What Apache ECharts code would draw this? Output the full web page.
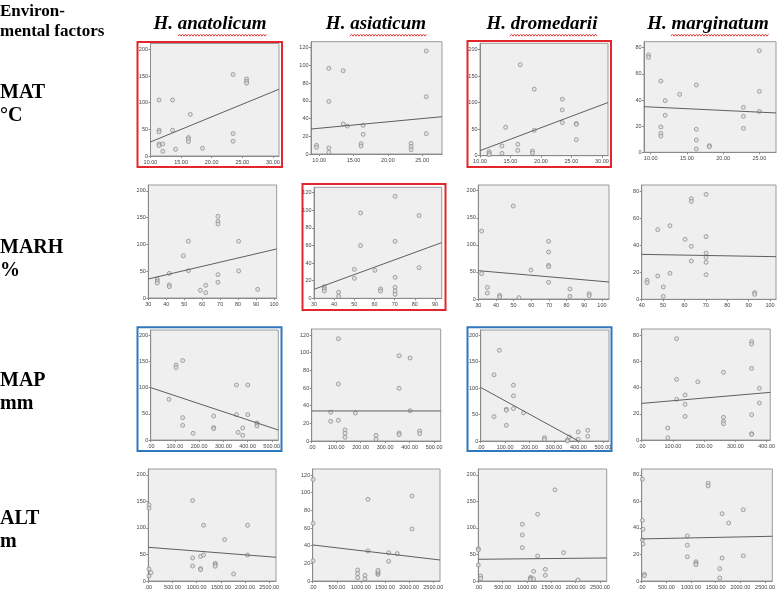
<!DOCTYPE html>
<html><head><meta charset="utf-8">
<script src="https://cdn.jsdelivr.net/npm/echarts@6/dist/echarts.min.js"></script>
<style>html,body{margin:0;padding:0;background:#fff}#c{width:778px;height:590px}</style>
</head><body><div id="c"></div>
<script>
// ---------- DATA ----------
const speciesNames = ['anatolicum', 'asiaticum', 'dromedarii', 'marginatum'];
const factorLabels = ['MAT\n°C', 'MARH\n%', 'MAP\nmm', 'ALT\nm'];
const cornerLabel = 'Environ-\nmental factors';

// tick labels
const yTicks200 = [0, 50, 100, 150, 200];
const yTicks120 = [0, 20, 40, 60, 80, 100, 120];
const yTicks80 = [0, 20, 40, 60, 80];
const xTicksMat = [10, 15, 20, 25, 30];
const xTicksMat25 = [10, 15, 20, 25];
const xTicksMarh = [30, 40, 50, 60, 70, 80, 90, 100];
const xTicksMarh90 = [30, 40, 50, 60, 70, 80, 90];
const xTicksMarh40 = [40, 50, 60, 70, 80, 90, 100];
const xTicksMap = [0, 100, 200, 300, 400, 500];
const xTicksMap400 = [0, 100, 200, 300, 400];
const xTicksAlt = [0, 500, 1000, 1500, 2000, 2500];

// MAT (°C)
const matAnatolicum = [[11.4,105],[11.4,48.4],[11.4,45],[11.4,22.6],[11.4,19.5],[12.0,22.6],[12.0,8.8],[13.6,105],[13.6,48.4],[14.1,12.6],[16.2,34.6],[16.2,31.4],[16.2,27],[16.5,78],[18.5,14.5],[23.5,152.8],[23.5,42],[23.5,27.7],[25.7,144.6],[25.7,140],[25.7,136.5]];
const matAnatolicumFit = [[10,26.4],[31,125.2]];
const matAsiaticum = [[9.6,9.8],[9.6,7.5],[11.4,96.7],[11.4,59.4],[11.4,6.8],[11.4,1.9],[13.5,94],[13.5,33.9],[14.1,31.6],[16.1,11.7],[16.1,9],[16.4,32.4],[16.4,22.2],[23.4,12],[23.4,8.3],[23.4,4.9],[25.6,116.3],[25.6,64.7],[25.6,23]];
const matAsiaticumFit = [[8.8,28.2],[27.9,42.1]];
const matDromedarii = [[11.5,7.6],[11.5,4.4],[11.5,1.9],[13.6,18.3],[13.6,4.4],[14.2,53.6],[16.2,21.5],[16.2,10],[16.6,171.6],[18.6,8.8],[18.6,5],[18.9,125.5],[18.9,48],[23.5,106.6],[23.5,86.4],[23.5,62.5],[25.8,60.6],[25.8,59],[25.8,30.3]];
const matDromedariiFit = [[10,9.5],[31,100.3]];
const matMarginatum = [[9.7,74.4],[9.7,72.6],[11.4,54.5],[11.4,19.4],[11.4,14.5],[11.4,12.4],[12.0,39.5],[12.0,28.3],[14.0,44.3],[16.3,51.5],[16.3,17.6],[16.3,9.4],[16.3,2.5],[18.1,5.1],[18.1,4.3],[22.8,34.4],[22.8,27.5],[22.8,18.3],[25.0,77.7],[25.0,46.6],[25.0,31.3]];
const matMarginatumFit = [[9.08,34.9],[27.3,30.1]];

// MARH (%)
const marhAnatolicum = [[35,35.5],[35,31.8],[35,28],[41.7,46],[41.7,24.3],[41.7,21.2],[49.5,79],[52.3,106],[52.3,51],[59,14.3],[62,23.7],[62,10],[68.8,152.6],[68.8,143.3],[68.8,138.3],[68.8,43.6],[68.8,29.3],[80.3,106],[80.3,50.5],[90.9,16.2]];
const marhAnatolicumFit = [[30,35.5],[101.5,91.6]];
const marhAsiaticum = [[35.1,13.2],[35.1,10.6],[35.1,8.3],[42.2,6.8],[42.2,2.3],[50,32.9],[50,22.7],[53.1,96.9],[53.1,59.8],[60.2,31.8],[63,10.6],[63,8.3],[70.2,115.8],[70.2,64.7],[70.2,23.8],[70.2,12.5],[70.2,8.3],[70.2,4.5],[82.1,93.9],[82.1,34.8]];
const marhAsiaticumFit = [[30,10.2],[93.3,63.2]];
const marhDromedarii = [[31.9,125.5],[31.9,46.8],[35.1,21.5],[35.1,11],[42.1,6.8],[42.1,3.7],[49.8,171.7],[53,2.5],[59.8,53.5],[69.8,106.5],[69.8,86.8],[69.8,62.2],[69.8,59.7],[69.8,30.8],[81.9,18.5],[81.9,4.9],[92.8,9.8],[92.8,6.2]];
const marhDromedariiFit = [[30,52.3],[104,31.4]];
const marhMarginatum = [[42.5,14.1],[42.5,12.4],[47.5,51.8],[47.5,17.3],[50.1,9.2],[50.1,2.2],[53.2,54.7],[53.2,19.3],[60.3,44.6],[63.2,74.8],[63.2,72.8],[63.2,39.4],[63.2,28.5],[70.1,78],[70.1,46.6],[70.1,34.4],[70.1,31.2],[70.1,27.5],[70.1,18.3],[92.8,5],[92.8,3.7]];
const marhMarginatumFit = [[40,33.4],[102.8,31.7]];

// MAP (mm)
const mapAnatolicum = [[75.8,77.7],[104.7,143.3],[104.7,138.2],[132,151.6],[132,42.7],[132,28],[175,12.7],[260,45.9],[260,23.6],[260,21.7],[354,105],[354,48.4],[361,14.6],[380,22.9],[380,8.9],[401,105],[401,48.4],[439,32.5],[439,30.6],[439,26.8]];
const mapAnatolicumFit = [[0,100],[527,19.1]];
const mapAsiaticum = [[109,115.8],[77.7,32.5],[77.7,22.3],[109,64.5],[109,23.4],[136,12.5],[136,8.7],[136,4.2],[178.5,31.7],[263,6.4],[263,1.9],[357,96.6],[357,59.6],[357,9],[357,7.2],[402,94],[402,34.3],[441,11.3],[441,8.3]];
const mapAsiaticumFit = [[0,34],[527,34]];
const mapDromedarii = [[76.5,171.5],[54.6,125.3],[54.6,46.2],[105,60.1],[105,58.2],[105,29.7],[134,105.7],[134,85.4],[134,61.4],[175,53.2],[261,6.3],[261,3.2],[355,1.9],[355,0],[363,7.6],[399,17.1],[399,3.2],[438,20.3],[438,8.9]];
const mapDromedariiFit = [[0,101.3],[400,0]];
const mapMarginatum = [[111.7,77.2],[83.5,9.1],[83.5,1.8],[111.7,46.2],[111.7,31],[139,34.3],[139,27.2],[139,18],[179.6,44.4],[262,51.6],[262,17.3],[262,14.2],[262,12.4],[352,75],[352,73.1],[352,54.6],[352,19.3],[352,4.8],[352,4.3],[377,39.4],[377,28.2]];
const mapMarginatumFit = [[0,27.9],[412,36.3]];

// ALT (m)
const altAnatolicum = [[14,143.4],[14,137.1],[14,22.6],[55,15.7],[14,9.4],[916,151.6],[916,43.4],[916,28.3],[1081,23.3],[1081,21.4],[1081,46.5],[1143,105],[1143,49],[1384,33.3],[1384,30.8],[1384,27.7],[1577,78],[1763,13.2],[2052,105],[2052,49]];
const altAnatolicumFit = [[0,63.5],[2640,44.7]];
const altAsiaticum = [[7,115],[7,65.3],[7,23],[932,12.5],[932,8.3],[932,3.8],[1084,6.4],[1084,2.3],[1146,92.5],[1146,34],[1354,7.5],[1354,9],[1354,10.6],[1354,12],[1575,32],[1575,22.3],[1754,31],[2058,96.2],[2058,58.9]];
const altAsiaticumFit = [[0,40.8],[2640,23.8]];
const altDromedarii = [[0,61],[0,58.5],[0,30.2],[48,9.4],[48,5],[904,106.9],[904,86.8],[904,62.9],[1075,6.9],[1075,5],[1075,3.1],[1137,18.2],[1137,3.8],[1219,125.8],[1219,47.2],[1377,22],[1377,10.7],[1575,171.7],[1753,53.5],[2048,1.9]];
const altDromedariiFit = [[0,40.9],[2638,43.4]];
const altMarginatum = [[13,76.75],[13,45.75],[27,39],[13,31],[27,28],[54,5],[54,4],[925,34],[925,27],[925,18.3],[1099,14.5],[1099,13.3],[1099,12.3],[1347,73.75],[1347,71.75],[1582,9.3],[1582,2.3],[1629,50.75],[1629,17.3],[1763,43.75],[2058,53.75],[2058,19]];
const altMarginatumFit = [[0,31.75],[2647,33.75]];

// ---------- LAYOUT ----------
const panels = [
  {pts: matAnatolicum, fit: matAnatolicumFit, xt: xTicksMat, yt: yTicks200, xr: [10, 31], yr: [0, 211], r: [150.5, 279, 43.5, 156], fmt: 'dec', box: 'red'},
  {pts: matAsiaticum, fit: matAsiaticumFit, xt: xTicksMat25, yt: yTicks120, xr: [8.8, 27.9], yr: [0, 126.8], r: [311, 442, 41.7, 154], fmt: 'dec'},
  {pts: matDromedarii, fit: matDromedariiFit, xt: xTicksMat, yt: yTicks200, xr: [10, 31], yr: [0, 212], r: [480, 608, 43.3, 155.7], fmt: 'dec', box: 'red'},
  {pts: matMarginatum, fit: matMarginatumFit, xt: xTicksMat25, yt: yTicks80, xr: [9.07, 27.3], yr: [0, 84.6], r: [644, 776, 41.7, 152.3], fmt: 'dec'},

  {pts: marhAnatolicum, fit: marhAnatolicumFit, xt: xTicksMarh, yt: yTicks200, xr: [30, 101.5], yr: [0, 211], r: [148.3, 276.7, 185, 298], fmt: 'int'},
  {pts: marhAsiaticum, fit: marhAsiaticumFit, xt: xTicksMarh90, yt: yTicks120, xr: [30, 93.3], yr: [0, 126], r: [314, 441.7, 187.3, 298.3], fmt: 'int', box: 'red'},
  {pts: marhDromedarii, fit: marhDromedariiFit, xt: xTicksMarh, yt: yTicks200, xr: [30, 104], yr: [0, 210.5], r: [478.3, 609, 185, 299], fmt: 'int'},
  {pts: marhMarginatum, fit: marhMarginatumFit, xt: xTicksMarh40, yt: yTicks80, xr: [40, 102.8], yr: [0, 85], r: [641.7, 776, 185, 299.3], fmt: 'int'},

  {pts: mapAnatolicum, fit: mapAnatolicumFit, xt: xTicksMap, yt: yTicks200, xr: [0, 527], yr: [0, 210], r: [150.7, 278.3, 330, 440], fmt: 'dec', box: 'blue'},
  {pts: mapAsiaticum, fit: mapAsiaticumFit, xt: xTicksMap, yt: yTicks120, xr: [0, 527], yr: [0, 126.8], r: [311.7, 440.7, 329, 441], fmt: 'dec'},
  {pts: mapDromedarii, fit: mapDromedariiFit, xt: xTicksMap, yt: yTicks200, xr: [0, 525], yr: [0, 210], r: [480.7, 609, 330, 441], fmt: 'dec', box: 'blue'},
  {pts: mapMarginatum, fit: mapMarginatumFit, xt: xTicksMap400, yt: yTicks80, xr: [0, 411.7], yr: [0, 84.6], r: [641.7, 773, 329, 440], fmt: 'dec'},

  {pts: altAnatolicum, fit: altAnatolicumFit, xt: xTicksAlt, yt: yTicks200, xr: [0, 2640], yr: [0, 211], r: [148.3, 276, 469, 581], fmt: 'dec'},
  {pts: altAsiaticum, fit: altAsiaticumFit, xt: xTicksAlt, yt: yTicks120, xr: [0, 2640], yr: [0, 126.8], r: [312.7, 440, 469, 581], fmt: 'dec'},
  {pts: altDromedarii, fit: altDromedariiFit, xt: xTicksAlt, yt: yTicks200, xr: [0, 2638], yr: [0, 211], r: [478.3, 606.7, 469, 581], fmt: 'dec'},
  {pts: altMarginatum, fit: altMarginatumFit, xt: xTicksAlt, yt: yTicks80, xr: [0, 2647], yr: [0, 84.5], r: [641.7, 773.3, 469, 581.7], fmt: 'dec'}
];

const boxRects = {
  0: [137.5, 42, 144.5, 125], 2: [467.5, 41, 143.5, 126], 5: [302.5, 184, 143, 126],
  8: [137.5, 327.3, 144, 123.7], 10: [467.5, 327.3, 144, 123.7]
};
const boxColors = {red: '#E3262B', blue: '#2F78BE'};
const titleCenters = [210, 376, 542, 708];
const underlineRanges = [[178, 267], [350, 427], [510, 598], [671, 769]];
const rowLabelTops = [81, 236, 369, 507];

const fmtDec = v => { const s = Number(v).toFixed(2); return s.startsWith('0.') ? s.slice(1) : s; };
const fmtInt = v => String(Math.round(v));

const grids = [], xAxes = [], yAxes = [], series = [];
const axisCol = '#8a8a8a';
const lblStyle = {fontSize: 5.5, color: '#444', fontFamily: 'Liberation Sans'};

panels.forEach((p, i) => {
  const [l, rr, t, b] = p.r;
  grids.push({left: l, top: t, width: rr - l, height: b - t, show: true,
    backgroundColor: '#EFEFEF', borderColor: '#9b9b9b', borderWidth: 1});
  xAxes.push({type: 'value', gridIndex: i, min: p.xr[0], max: p.xr[1],
    axisLine: {show: true, onZero: false, lineStyle: {color: axisCol, width: 1}},
    axisTick: {show: true, length: 2, customValues: p.xt, lineStyle: {color: axisCol}},
    axisLabel: Object.assign({customValues: p.xt, margin: 3,
      formatter: p.fmt === 'dec' ? fmtDec : fmtInt}, lblStyle),
    splitLine: {show: false}});
  yAxes.push({type: 'value', gridIndex: i, min: p.yr[0], max: p.yr[1],
    axisLine: {show: true, onZero: false, lineStyle: {color: axisCol, width: 1}},
    axisTick: {show: true, length: 2, customValues: p.yt, lineStyle: {color: axisCol}},
    axisLabel: Object.assign({customValues: p.yt, margin: 2.5, formatter: fmtInt}, lblStyle),
    splitLine: {show: false}});
  series.push({type: 'scatter', xAxisIndex: i, yAxisIndex: i, data: p.pts,
    symbol: 'circle', symbolSize: 4, silent: true, clip: false,
    itemStyle: {color: '#dedede', borderColor: '#7a7a7a', borderWidth: 0.8}});
  series.push({type: 'line', xAxisIndex: i, yAxisIndex: i, data: p.fit,
    symbol: 'none', silent: true, lineStyle: {color: '#5e5e5e', width: 1}});
});

const graphics = [];
graphics.push({type: 'text', left: 0, top: 2, style: {text: cornerLabel,
  fontFamily: 'Liberation Serif', fontWeight: 'bold', fontSize: 17, lineHeight: 20, fill: '#000'}});
factorLabels.forEach((s, i) => {
  graphics.push({type: 'text', left: 0, top: rowLabelTops[i], style: {text: s,
    fontFamily: 'Liberation Serif', fontWeight: 'bold', fontSize: 20, lineHeight: 23, fill: '#000'}});
});
speciesNames.forEach((s, i) => {
  graphics.push({type: 'text', x: titleCenters[i], y: 34, style: {text: 'H. ' + s,
    fontFamily: 'Liberation Serif', fontWeight: 'bold', fontStyle: 'italic', fontSize: 19,
    textAlign: 'center', textVerticalAlign: 'bottom', fill: '#000'}});
  const [a, z] = underlineRanges[i];
  const pts = [];
  for (let x = a, k = 0; x <= z; x += 1.5, k++) pts.push([x, k % 2 ? 34.2 : 36.2]);
  graphics.push({type: 'polyline', shape: {points: pts}, style: {stroke: '#E03030', lineWidth: 0.9, fill: null}});
});
Object.keys(boxRects).forEach(k => {
  const [x, y, w, h] = boxRects[k];
  graphics.push({type: 'rect', shape: {x, y, width: w, height: h},
    style: {fill: null, stroke: boxColors[panels[k].box], lineWidth: 2}, z: -1});
});

const chart = echarts.init(document.getElementById('c'), null, {renderer: 'canvas'});
chart.setOption({
  animation: false,
  backgroundColor: '#fff',
  grid: grids, xAxis: xAxes, yAxis: yAxes, series: series, graphic: graphics
});
</script></body></html>
